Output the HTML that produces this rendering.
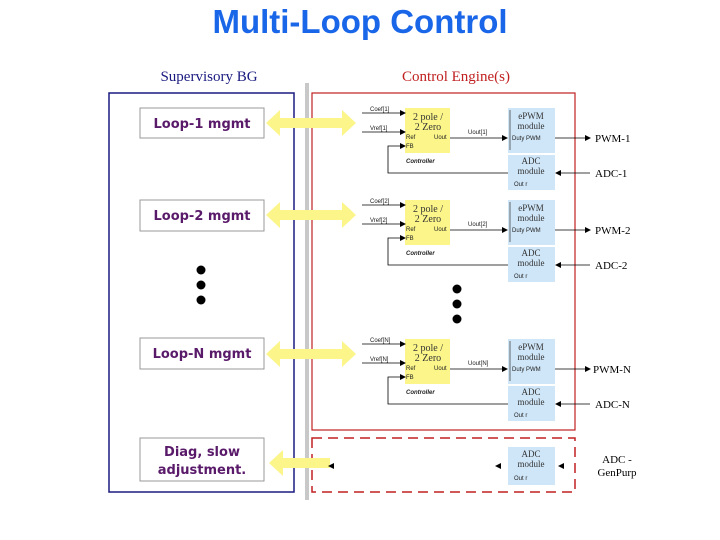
<!DOCTYPE html>
<html><head><meta charset="utf-8"><style>
html,body{margin:0;padding:0;background:#fff;}
svg{display:block;}
.s{font-family:"Liberation Sans",sans-serif;font-size:6px;fill:#222;}
.sv{font-family:"Liberation Serif",serif;}
.cm{font-family:"DejaVu Sans",sans-serif;font-weight:bold;fill:#5a1a6a;font-size:13px;}
</style></head><body>
<svg width="720" height="540" viewBox="0 0 720 540" xmlns="http://www.w3.org/2000/svg">
<defs>
<marker id="a" markerWidth="6" markerHeight="6" refX="5" refY="3" orient="auto" markerUnits="userSpaceOnUse"><path d="M0,0 L6,3 L0,6z" fill="#000"/></marker>
<g id="blk">
  <rect x="405" y="108" width="45" height="45" fill="#fbf58a"/>
  <rect x="508" y="108" width="47" height="45" fill="#cfe6f8"/>
  <line x1="510" y1="110" x2="510" y2="150" stroke="#333" stroke-width="0.7"/>
  <rect x="508" y="155" width="47" height="35" fill="#cfe6f8"/>
  <text x="428" y="120" font-family="Liberation Serif" font-size="10" text-anchor="middle" fill="#333">2 pole /</text>
  <text x="428" y="130" font-family="Liberation Serif" font-size="10" text-anchor="middle" fill="#333">2 Zero</text>
  <text x="406" y="139" class="s">Ref</text><text x="406" y="148" class="s">FB</text>
  <text x="434" y="139" class="s">Uout</text>
  <text x="406" y="163" class="s" font-style="italic" font-weight="bold">Controller</text>
  <text x="531" y="119" font-family="Liberation Serif" font-size="9" text-anchor="middle" fill="#333">ePWM</text>
  <text x="531" y="129" font-family="Liberation Serif" font-size="9" text-anchor="middle" fill="#333">module</text>
  <text x="512" y="140" class="s">Duty  PWM</text>
  <text x="531" y="164" font-family="Liberation Serif" font-size="9" text-anchor="middle" fill="#333">ADC</text>
  <text x="531" y="174" font-family="Liberation Serif" font-size="9" text-anchor="middle" fill="#333">module</text>
  <text x="514" y="186" class="s">Out     r</text>
  <line x1="362" y1="113" x2="405" y2="113" stroke="#000" stroke-width="0.8" marker-end="url(#a)"/>
  <line x1="362" y1="132" x2="405" y2="132" stroke="#000" stroke-width="0.8" marker-end="url(#a)"/>
  <polyline points="508,173 388,173 388,146 405,146" fill="none" stroke="#000" stroke-width="0.8" marker-end="url(#a)"/>
  <line x1="450" y1="138" x2="507" y2="138" stroke="#000" stroke-width="0.8" marker-end="url(#a)"/>
  <line x1="555" y1="138" x2="590" y2="138" stroke="#000" stroke-width="0.8" marker-end="url(#a)"/>
  <line x1="590" y1="173" x2="556" y2="173" stroke="#000" stroke-width="0.8" marker-end="url(#a)"/>
  <path d="M266,123 L280,110 L280,118 L342,118 L342,110 L356,123 L342,136 L342,128 L280,128 L280,136z" fill="#fbf58a"/>
</g>
</defs>
<text x="360" y="33" text-anchor="middle" font-family="Liberation Sans" font-weight="bold" font-size="33" fill="#1a66e8">Multi-Loop Control</text>
<text x="209" y="81" text-anchor="middle" class="sv" font-size="15" fill="#1a1a80">Supervisory BG</text>
<text x="456" y="81" text-anchor="middle" class="sv" font-size="15" fill="#c02020">Control Engine(s)</text>
<rect x="109" y="93" width="185" height="399" fill="none" stroke="#1a1a80" stroke-width="1.5"/>
<rect x="305" y="83" width="4" height="417" fill="#c8c8c8"/>
<rect x="312" y="93" width="263" height="337" fill="none" stroke="#c02020" stroke-width="1.2"/>
<rect x="312" y="438" width="263" height="54" fill="none" stroke="#c02020" stroke-width="1.5" stroke-dasharray="10,6"/>
<use href="#blk"/>
<use href="#blk" transform="translate(0,92)"/>
<use href="#blk" transform="translate(0,231)"/>
<text x="370" y="111" class="s">Coef[1]</text><text x="370" y="130" class="s">Vref[1]</text><text x="468" y="134" class="s">Uout[1]</text>
<text x="370" y="203" class="s">Coef[2]</text><text x="370" y="222" class="s">Vref[2]</text><text x="468" y="226" class="s">Uout[2]</text>
<text x="370" y="342" class="s">Coef[N]</text><text x="370" y="361" class="s">Vref[N]</text><text x="468" y="365" class="s">Uout[N]</text>
<text x="595" y="142" class="sv" font-size="11">PWM-1</text><text x="595" y="177" class="sv" font-size="11">ADC-1</text>
<text x="595" y="234" class="sv" font-size="11">PWM-2</text><text x="595" y="269" class="sv" font-size="11">ADC-2</text>
<text x="593" y="373" class="sv" font-size="11">PWM-N</text><text x="595" y="408" class="sv" font-size="11">ADC-N</text>
<text x="617" y="463" class="sv" font-size="11" text-anchor="middle">ADC -</text>
<text x="617" y="476" class="sv" font-size="11" text-anchor="middle">GenPurp</text>
<rect x="140" y="108" width="124" height="30" fill="#fff" stroke="#999"/>
<text x="202" y="128" text-anchor="middle" class="cm">Loop-1 mgmt</text>
<rect x="140" y="200" width="124" height="31" fill="#fff" stroke="#999"/>
<text x="202" y="220" text-anchor="middle" class="cm">Loop-2 mgmt</text>
<rect x="140" y="338" width="124" height="31" fill="#fff" stroke="#999"/>
<text x="202" y="358" text-anchor="middle" class="cm">Loop-N mgmt</text>
<rect x="140" y="438" width="124" height="43" fill="#fff" stroke="#999"/>
<text x="202" y="456" text-anchor="middle" class="cm">Diag, slow</text>
<text x="202" y="474" text-anchor="middle" class="cm">adjustment.</text>
<path d="M269,463 L283,450 L283,458 L330,458 L330,468 L283,468 L283,476z" fill="#fbf58a"/>
<rect x="508" y="447" width="47" height="38" fill="#cfe6f8"/>
<text x="531" y="457" font-family="Liberation Serif" font-size="9" text-anchor="middle" fill="#333">ADC</text>
<text x="531" y="467" font-family="Liberation Serif" font-size="9" text-anchor="middle" fill="#333">module</text>
<text x="514" y="480" class="s">Out     r</text>
<path d="M328,466 l6,-3 l0,6z M495,466 l6,-3 l0,6z M558,466 l6,-3 l0,6z" fill="#000"/>
<circle cx="201" cy="270" r="4.5"/><circle cx="201" cy="285" r="4.5"/><circle cx="201" cy="300" r="4.5"/>
<circle cx="457" cy="289" r="4.5"/><circle cx="457" cy="304" r="4.5"/><circle cx="457" cy="319" r="4.5"/>
</svg>
</body></html>
